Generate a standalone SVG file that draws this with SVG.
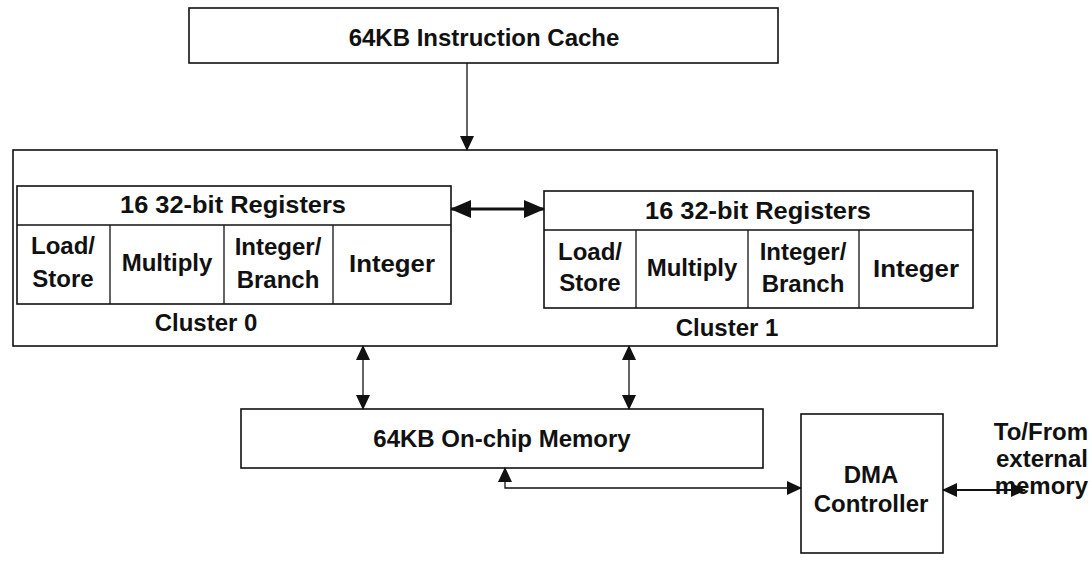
<svg xmlns="http://www.w3.org/2000/svg" width="1092" height="564" viewBox="0 0 1092 564">
  <style>
    .box { fill: #ffffff; stroke: #111111; stroke-width: 1.6; }
    .lbl { font-family: "Liberation Sans", Arial, sans-serif; font-weight: bold; font-size: 24px; fill: #111111; text-anchor: middle; }
    .end { text-anchor: end; }
    .thin { fill: none; stroke: #111111; stroke-width: 1.3; }
    .mid { fill: none; stroke: #111111; stroke-width: 2.2; }
    .thick { fill: none; stroke: #111111; stroke-width: 3.2; }
  </style>
  <defs>
    <marker id="head" markerUnits="userSpaceOnUse" markerWidth="15" markerHeight="15" viewBox="0 0 15 15" refX="14" refY="7.5" orient="auto-start-reverse">
      <path d="M0,0.5 L15,7.5 L0,14.5 Z" fill="#111111"/>
    </marker>
    <marker id="headBig" markerUnits="userSpaceOnUse" markerWidth="21" markerHeight="19" viewBox="0 0 21 19" refX="20" refY="9.5" orient="auto-start-reverse">
      <path d="M0,0.5 L21,9.5 L0,18.5 Z" fill="#111111"/>
    </marker>
  </defs>

  <rect width="1092" height="564" fill="#ffffff"/>

  <!-- processor core outline -->
  <g id="core">
    <rect class="box" x="13" y="150" width="984" height="196"/>
  </g>

  <g id="icache">
    <rect class="box" x="189" y="8" width="589" height="55"/>
    <text class="lbl" x="484" y="46" font-size="19.5">64KB Instruction Cache</text>
  </g>

  <g id="cluster0">
    <rect class="box" x="17" y="186" width="434" height="118"/>
    <line class="thin" x1="17" y1="225" x2="451" y2="225"/>
    <line class="thin" x1="110" y1="225" x2="110" y2="304"/>
    <line class="thin" x1="224" y1="225" x2="224" y2="304"/>
    <line class="thin" x1="333" y1="225" x2="333" y2="304"/>
    <text class="lbl" x="233" y="213" font-size="23" textLength="226" lengthAdjust="spacingAndGlyphs">16 32-bit Registers</text>
    <text class="lbl" x="63" y="254">Load/</text>
    <text class="lbl" x="63" y="287">Store</text>
    <text class="lbl" x="167" y="271">Multiply</text>
    <text class="lbl" x="278" y="255">Integer/</text>
    <text class="lbl" x="278" y="288">Branch</text>
    <text class="lbl" x="392" y="272" textLength="86" lengthAdjust="spacingAndGlyphs">Integer</text>
    <text class="lbl" x="206" y="331">Cluster 0</text>
  </g>

  <g id="cluster1">
    <rect class="box" x="544" y="191" width="429" height="117"/>
    <line class="thin" x1="544" y1="230" x2="973" y2="230"/>
    <line class="thin" x1="636" y1="230" x2="636" y2="308"/>
    <line class="thin" x1="748" y1="230" x2="748" y2="308"/>
    <line class="thin" x1="859" y1="230" x2="859" y2="308"/>
    <text class="lbl" x="758" y="219" font-size="23" textLength="226" lengthAdjust="spacingAndGlyphs">16 32-bit Registers</text>
    <text class="lbl" x="590" y="260">Load/</text>
    <text class="lbl" x="590" y="291">Store</text>
    <text class="lbl" x="692" y="276">Multiply</text>
    <text class="lbl" x="803" y="260">Integer/</text>
    <text class="lbl" x="803" y="292">Branch</text>
    <text class="lbl" x="916" y="277" textLength="86" lengthAdjust="spacingAndGlyphs">Integer</text>
    <text class="lbl" x="727" y="336">Cluster 1</text>
  </g>

  <g id="memory">
    <rect class="box" x="241" y="409" width="522" height="59"/>
    <text class="lbl" x="502" y="447" font-size="26">64KB On-chip Memory</text>
  </g>

  <g id="dma">
    <rect class="box" x="801" y="414" width="142" height="139"/>
    <text class="lbl" x="871" y="483" font-size="25">DMA</text>
    <text class="lbl" x="871" y="512">Controller</text>
  </g>

  <g id="external-label">
    <text class="lbl end" x="1088" y="440" font-size="22">To/From</text>
    <text class="lbl end" x="1088" y="467" font-size="22">external</text>
    <text class="lbl end" x="1088" y="494" font-size="22">memory</text>
  </g>

  <g id="connectors">
    <line class="thin" x1="467" y1="63" x2="467" y2="150" marker-end="url(#head)"/>
    <line class="thick" x1="451" y1="209" x2="544" y2="209" marker-start="url(#headBig)" marker-end="url(#headBig)"/>
    <line class="thin" x1="363" y1="346" x2="363" y2="409" marker-start="url(#head)" marker-end="url(#head)"/>
    <line class="thin" x1="629" y1="346" x2="629" y2="409" marker-start="url(#head)" marker-end="url(#head)"/>
    <path class="thin" d="M505,468 L505,488 L801,488" marker-start="url(#head)" marker-end="url(#head)"/>
    <line class="mid" x1="943" y1="490" x2="1025" y2="490" marker-start="url(#head)" marker-end="url(#head)"/>
  </g>
</svg>
